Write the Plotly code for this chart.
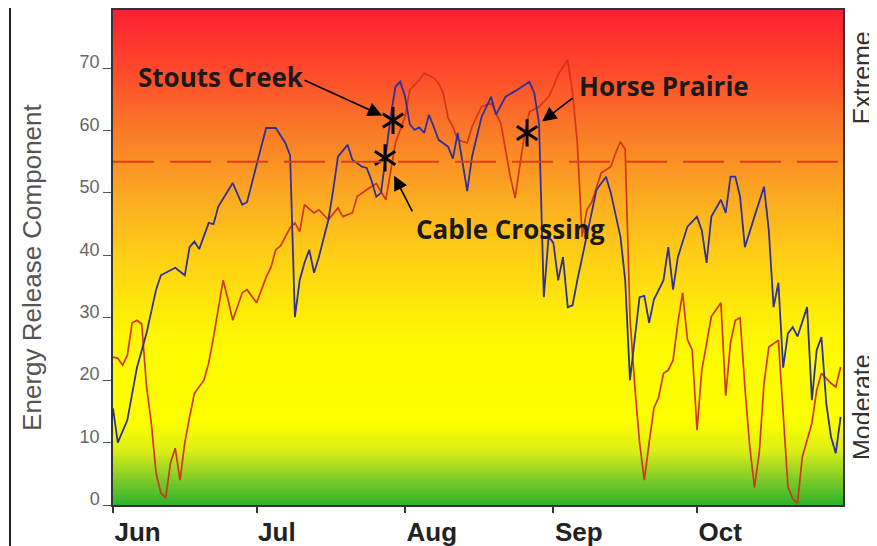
import pandas as pd
import plotly.graph_objects as go

# ---------------- data ----------------
season_start = "2015-06-01"
season_end = "2015-10-31 12:00"

# day offsets from June 1, 2015 and ERC values
blue_days = [0, 1, 3, 5, 7, 9, 10, 13, 15, 16, 17, 18, 20, 21, 22, 25, 27, 28, 30, 32,
             34, 36, 37, 38, 39, 40, 41, 42, 43, 45, 46, 47, 49, 50, 52, 53, 54, 55, 56, 57,
             58, 59, 60, 61, 62, 63, 64, 65, 66, 67, 68, 70, 71, 72, 74, 75, 77, 79, 80, 82,
             84, 87, 88, 89, 90, 91, 92, 93, 94, 95, 96, 97, 99, 101, 103, 104, 106, 107, 108, 109,
             110, 111, 112, 113, 115, 116, 117, 118, 120, 122, 123, 124, 125, 127, 128, 129, 130, 131, 132, 134,
             136, 137, 138, 139, 140, 141, 142, 143, 145, 146, 147, 148, 149, 150, 151, 152]
blue_erc = [15.5, 10, 13.6, 22, 27.5, 34.5, 36.8, 38, 36.8, 41.3, 42.2, 41, 45.2, 45, 47.8, 51.6, 48.1, 48.5, 54.5, 60.4,
            60.4, 58, 56, 30.1, 36, 38.8, 40.9, 37.2, 39.7, 45.7, 50.5, 55.8, 57.7, 55.3, 54.2, 54, 52, 49.4, 50, 55.8,
            62.2, 67, 67.8, 65.5, 61, 60.1, 60.5, 59.6, 62.5, 60.6, 58.5, 57.4, 55.5, 59.6, 50.3, 55.8, 62.2, 65.4, 62.5, 65.4,
            66.3, 67.8, 66, 61.2, 33.3, 43, 42, 36, 39.7, 31.7, 32, 36, 43, 50.5, 52.6, 50, 43, 36, 20, 27,
            33.3, 33.5, 29.2, 32.9, 36, 41.3, 34.5, 39.7, 44.6, 46.2, 44, 38.8, 46.2, 48.9, 46.8, 52.6, 52.6, 49.4, 41.3, 46.2,
            51, 44, 31.7, 35.6, 22, 27.5, 28.5, 27, 31.7, 16.8, 24.8, 26.9, 16.3, 10.9, 8.3, 14.1]

red_days = [0, 1, 2, 3, 4, 5, 6, 7, 8, 9, 10, 11, 12, 13, 14, 15, 16, 17, 19, 20,
            21, 22, 23, 24, 25, 27, 28, 30, 32, 33, 34, 35, 37, 38, 39, 40, 42, 43, 45, 47,
            48, 50, 51, 53, 54, 55, 57, 58, 59, 61, 62, 64, 65, 67, 68, 69, 70, 71, 72, 74,
            75, 77, 79, 81, 82, 83, 84, 85, 86, 87, 89, 91, 92, 93, 95, 96, 97, 98, 99, 100,
            102, 104, 105, 106, 107, 108, 109, 110, 111, 112, 113, 114, 115, 116, 117, 118, 119, 120, 121, 122,
            123, 125, 127, 128, 129, 130, 131, 132, 133, 134, 135, 136, 137, 139, 140, 141, 142, 143, 144, 146,
            147, 148, 150, 151, 152]
red_erc = [23.7, 23.5, 22.4, 24, 29.2, 29.6, 29, 19, 13.1, 5.1, 1.9, 1.1, 6.7, 9.1, 4, 10, 14.1, 17.9, 20, 22.8,
           26.9, 31.7, 36, 33, 29.6, 34, 34.5, 32.4, 36.5, 38.1, 40.9, 41.5, 44.4, 45.2, 43.8, 48.1, 46.8, 47.3, 45.7, 47.6,
           46.2, 46.8, 49.4, 50.5, 51, 51.5, 48.9, 53.7, 58, 62.2, 66.5, 68.1, 69.2, 68.4, 67.6, 66, 62, 60.6, 58.5, 58,
           60.6, 63.8, 64.4, 61.2, 56.9, 52.6, 49.2, 54.8, 59.6, 63, 63.8, 65.4, 67, 69, 71.3, 66, 58, 43, 47.3, 48.5,
           53.2, 54.2, 56.4, 58.2, 57, 30, 19, 10, 4, 10, 15.5, 17.3, 21.1, 21.6, 23.2, 29.2, 34, 26.5, 24.8, 12,
           21.6, 30.2, 32.4, 17.5, 26, 29.6, 30, 18.9, 9.5, 2.8, 8.3, 19.5, 25.3, 26.4, 14.5, 2.9, 1, 0.3, 7.7, 13.1,
           18.4, 21.1, 19.5, 18.9, 22.1]

threshold = 55  # extreme threshold (dashed line)

fire_names = ["Stouts Creek", "Cable Crossing", "Horse Prairie"]
fire_dates = ["2015-07-29 12:00", "2015-07-27 20:00", "2015-08-26 12:00"]
fire_erc = [61.6, 55.6, 59.6]

month_ticks = ["2015-06-01", "2015-07-01", "2015-08-01", "2015-09-01", "2015-10-01"]
month_labels = ["Jun", "Jul", "Aug", "Sep", "Oct"]
y_ticks = [0, 10, 20, 30, 40, 50, 60, 70]
y_max = 79.3

# ---------------- styles ----------------
BLUE = "#30309A"
RED = "#D2361A"
DASH = "#D8401E"
bg_scale = [
    [0.00, "rgb(44,178,44)"],
    [0.05, "rgb(125,203,40)"],
    [0.11, "rgb(220,238,22)"],
    [0.17, "rgb(255,255,0)"],
    [0.30, "rgb(255,252,0)"],
    [0.38, "rgb(255,238,8)"],
    [0.50, "rgb(255,207,22)"],
    [0.63, "rgb(252,168,34)"],
    [0.76, "rgb(250,120,40)"],
    [0.88, "rgb(254,72,44)"],
    [1.00, "rgb(252,32,48)"],
]

start = pd.Timestamp(season_start)
blue_x = [start + pd.Timedelta(days=d) for d in blue_days]
red_x = [start + pd.Timedelta(days=d) for d in red_days]

fig = go.Figure()

# gradient background (heatmap spanning the plot)
n_rows = 200
edges = [y_max * i / n_rows for i in range(n_rows + 1)]
mids = [[(edges[i] + edges[i + 1]) / 2] for i in range(n_rows)]
fig.add_trace(go.Heatmap(
    x=[pd.Timestamp(season_start) - pd.Timedelta(days=1), pd.Timestamp(season_end) + pd.Timedelta(days=1)],
    y=edges, z=mids, colorscale=bg_scale, zmin=0, zmax=y_max,
    showscale=False, hoverinfo="skip"))

fig.add_trace(go.Scatter(x=red_x, y=red_erc, mode="lines",
                         line=dict(color=RED, width=1.7), showlegend=False))
fig.add_trace(go.Scatter(x=blue_x, y=blue_erc, mode="lines",
                         line=dict(color=BLUE, width=1.8), showlegend=False))

# asterisks (6 spokes)
for sym in ["y-up-open", "y-down-open"]:
    fig.add_trace(go.Scatter(x=fire_dates, y=fire_erc, mode="markers",
                             marker=dict(symbol=sym, size=17, color="black",
                                         line=dict(color="black", width=3)),
                             showlegend=False, hoverinfo="skip"))

fig.add_hline(y=threshold, line=dict(color=DASH, width=2, dash="41px,16px"))

ann_font = dict(family="Open Sans, sans-serif", size=26, color="#1a1a1a", weight=700)
text_pos = {  # paper coordinates for the labels
    "Stouts Creek": (0.031, 0.865),
    "Cable Crossing": (0.412, 0.558),
    "Horse Prairie": (0.636, 0.847),
}
arrow_off = {  # tail offsets in px and standoff
    "Stouts Creek": (-90, -41, 12),
    "Cable Crossing": (28, 55, 20),
    "Horse Prairie": (47, -36, 19),
}
for name, d, v in zip(fire_names, fire_dates, fire_erc):
    px_, py_ = text_pos[name]
    fig.add_annotation(x=px_, y=py_, xref="paper", yref="paper", text=name,
                       showarrow=False, xanchor="left", yanchor="middle", font=ann_font)
    ax, ay, so = arrow_off[name]
    fig.add_annotation(x=d, y=v, xref="x", yref="y", text="", showarrow=True,
                       ax=ax, ay=ay, standoff=so, arrowhead=2, arrowsize=1.8,
                       arrowwidth=1.6, arrowcolor="black")

# axis / side labels
side_font = dict(family="Liberation Sans, Arial", size=25, color="#333333")
fig.add_annotation(x=-0.111, y=0.481, xref="paper", yref="paper",
                   text="Energy Release Component", textangle=-90, showarrow=False,
                   xanchor="center", yanchor="middle",
                   font=dict(family="Liberation Sans, Arial", size=26, color="#555555"))
fig.add_annotation(x=1.026, y=0.864, xref="paper", yref="paper", text="Extreme",
                   textangle=-90, showarrow=False, xanchor="center", yanchor="middle",
                   font=side_font)
fig.add_annotation(x=1.026, y=0.198, xref="paper", yref="paper", text="Moderate",
                   textangle=-90, showarrow=False, xanchor="center", yanchor="middle",
                   font=side_font)

# left frame line of the picture
fig.add_shape(type="line", xref="paper", yref="paper", x0=-0.1411, x1=-0.1411,
              y0=-0.09, y1=1.03, line=dict(color="#222222", width=2))

fig.update_xaxes(range=[pd.Timestamp(season_start), pd.Timestamp(season_end)],
                 tickvals=month_ticks, ticktext=month_labels,
                 ticks="outside", ticklen=6, tickcolor="#333333", tickwidth=1.5,
                 ticklabelposition="outside right", ticklabelstandoff=3,
                 tickfont=dict(family="Liberation Sans, Arial", size=26, color="#222222", weight=700),
                 showline=True, linecolor="#333333", linewidth=1.5, mirror=True,
                 showgrid=False, zeroline=False, automargin=False)
fig.update_yaxes(range=[0, y_max], tickvals=y_ticks,
                 ticks="outside", ticklen=8, tickcolor="#555555", tickwidth=1.2,
                 ticklabelshift=-6,
                 tickfont=dict(family="Liberation Sans, Arial", size=18, color="#666666"),
                 showline=True, linecolor="#333333", linewidth=1.5, mirror=True,
                 showgrid=False, zeroline=False, automargin=False)

# the page adds an 8px body margin, so the figure is sized to the remaining viewport
fig.update_layout(width=869, height=538, margin=dict(l=105, r=34, t=2, b=41),
                  paper_bgcolor="white", plot_bgcolor="white", showlegend=False)

fig.write_html("out.html")
